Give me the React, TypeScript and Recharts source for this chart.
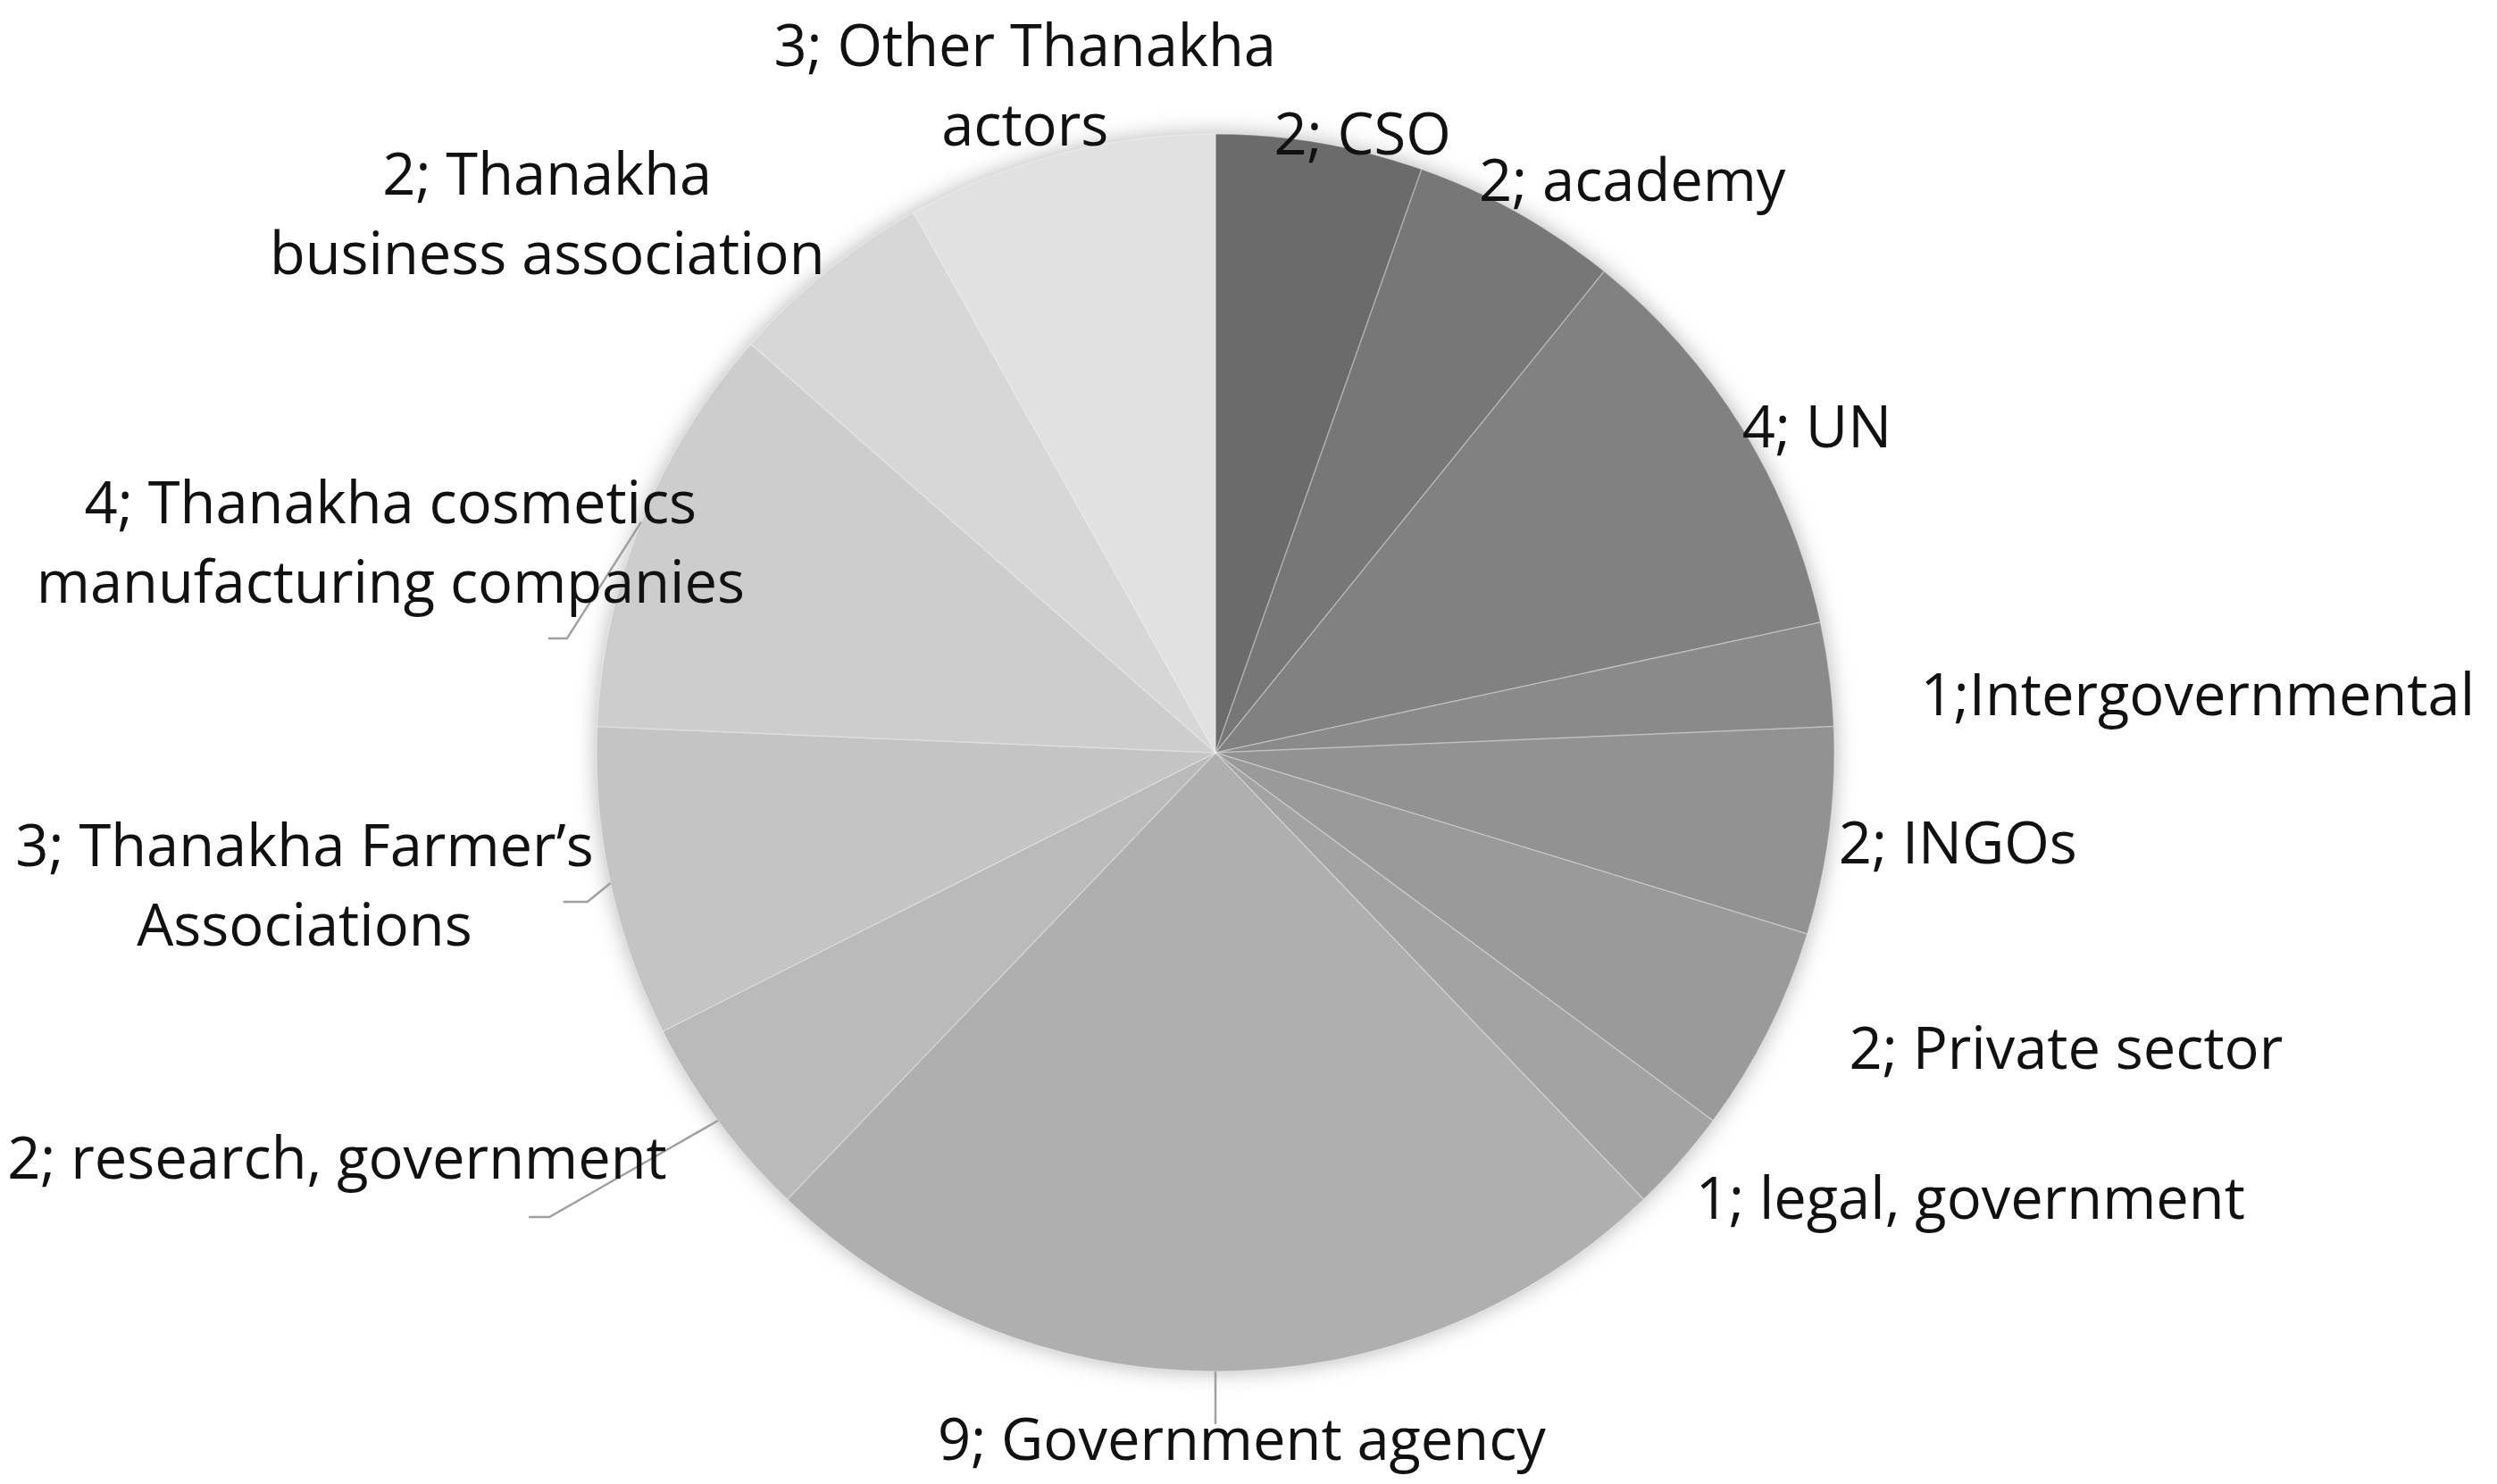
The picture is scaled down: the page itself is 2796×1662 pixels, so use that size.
import { PieChart, Pie, Cell } from 'recharts';

// stakeholder groups, clockwise from 12 o'clock
const categories = [
  'CSO',
  'academy',
  'UN',
  'Intergovernmental',
  'INGOs',
  'Private sector',
  'legal, government',
  'Government agency',
  'research, government',
  'Thanakha Farmer’s Associations',
  'Thanakha cosmetics manufacturing companies',
  'Thanakha business association',
  'Other Thanakha actors',
];
const counts = [2, 2, 4, 1, 2, 2, 1, 9, 2, 3, 4, 2, 3];
const shades = [
  '#6b6b6b', '#777777', '#818181', '#8a8a8a', '#929292', '#9a9a9a', '#a3a3a3',
  '#afafaf', '#bababa', '#c4c4c4', '#cdcdcd', '#d7d7d7', '#e1e1e1',
];

const data = categories.map((name, i) => ({ name, value: counts[i] }));
const total = counts.reduce((s, v) => s + v, 0);

const W = 2796;
const H = 1662;
const CX = 1361;
const CY = 843;
const R = 693;
const FONT = 65;
const LINE = 89;

// label placement (Excel "best fit" look): angle nudge from slice middle (deg),
// distance as a fraction of the radius, words on first line, optional leader elbow
type Place = { turn: number; dist: number; br?: number; sep?: string; leader?: { turn: number; dist: number; tail: number } };
const placement: Place[] = [
  { turn: 3.6, dist: 1.03 },
  { turn: 6.8, dist: 1.146 },
  { turn: 3.0, dist: 1.107 },
  { turn: 3.8, dist: 1.59, sep: ';' },
  { turn: -0.5, dist: 1.208 },
  { turn: -7.7, dist: 1.454 },
  { turn: -10.9, dist: 1.415 },
  { turn: -2.2, dist: 1.108, leader: { turn: 0, dist: 1.085, tail: 0 } },
  { turn: 11.8, dist: 1.562, leader: { turn: 1.6, dist: 1.312, tail: 23 } },
  { turn: 4.0, dist: 1.487, br: 3, leader: { turn: -1.2, dist: 1.043, tail: 27 } },
  { turn: -7.5, dist: 1.376, br: 3, leader: { turn: -11.9, dist: 1.064, tail: 21 } },
  { turn: -12.1, dist: 1.389, br: 2 },
  { turn: -1.3, dist: 1.124, br: 3 },
];

// theta measured clockwise from 12 o'clock
const polar = (cx: number, cy: number, r: number, theta: number) => {
  const t = (theta * Math.PI) / 180;
  return { x: cx + r * Math.sin(t), y: cy - r * Math.cos(t) };
};

function renderLabel(props: any) {
  const { cx, cy, midAngle, outerRadius, index, value, name } = props;
  const p = placement[index];
  const mid = 90 - midAngle;
  const pos = polar(cx, cy, outerRadius * p.dist, mid + p.turn);
  const text = `${value}${p.sep ?? '; '}${name}`;
  const words = text.split(' ');
  const lines = p.br ? [words.slice(0, p.br).join(' '), words.slice(p.br).join(' ')] : [text];
  let leader = null;
  if (p.leader) {
    const a = polar(cx, cy, outerRadius, mid);
    const b = polar(cx, cy, outerRadius * p.leader.dist, mid + p.leader.turn);
    leader = (
      <polyline
        points={`${a.x},${a.y} ${b.x},${b.y} ${b.x - p.leader.tail},${b.y}`}
        fill="none"
        stroke="#a0a0a0"
        strokeWidth={2.5}
      />
    );
  }
  return (
    <g key={`lbl-${index}`}>
      {leader}
      {lines.map((ln, k) => (
        <text
          key={k}
          x={pos.x}
          y={pos.y + (k - (lines.length - 1) / 2) * LINE}
          textAnchor="middle"
          dominantBaseline="central"
          fontFamily="'Open Sans', sans-serif"
          fontSize={FONT}
          fill="#111"
        >
          {ln}
        </text>
      ))}
    </g>
  );
}

export default function App() {
  return (
    <div style={{ position: 'absolute', left: 0, top: 0, width: W, height: H, background: '#fff' }}>
      <PieChart width={W} height={H} margin={{ top: 0, right: 0, bottom: 0, left: 0 }}>
        <defs>
          <filter id="pieShadow" x="-20%" y="-20%" width="140%" height="140%">
            <feGaussianBlur stdDeviation="12" />
          </filter>
        </defs>
        <Pie
          data={[{ name: 'all', value: total }]}
          dataKey="value"
          cx={CX}
          cy={CY}
          outerRadius={R}
          startAngle={90}
          endAngle={-270}
          stroke="none"
          label={false}
          labelLine={false}
          isAnimationActive={false}
        >
          <Cell fill="#b4b4b4" filter="url(#pieShadow)" />
        </Pie>
        <Pie
          data={data}
          dataKey="value"
          nameKey="name"
          cx={CX}
          cy={CY}
          outerRadius={R}
          startAngle={90}
          endAngle={-270}
          stroke="#ffffff"
          strokeOpacity={0.3}
          strokeWidth={1.5}
          label={renderLabel}
          labelLine={false}
          isAnimationActive={false}
        >
          {data.map((d, i) => (
            <Cell key={d.name} fill={shades[i]} />
          ))}
        </Pie>
      </PieChart>
    </div>
  );
}
